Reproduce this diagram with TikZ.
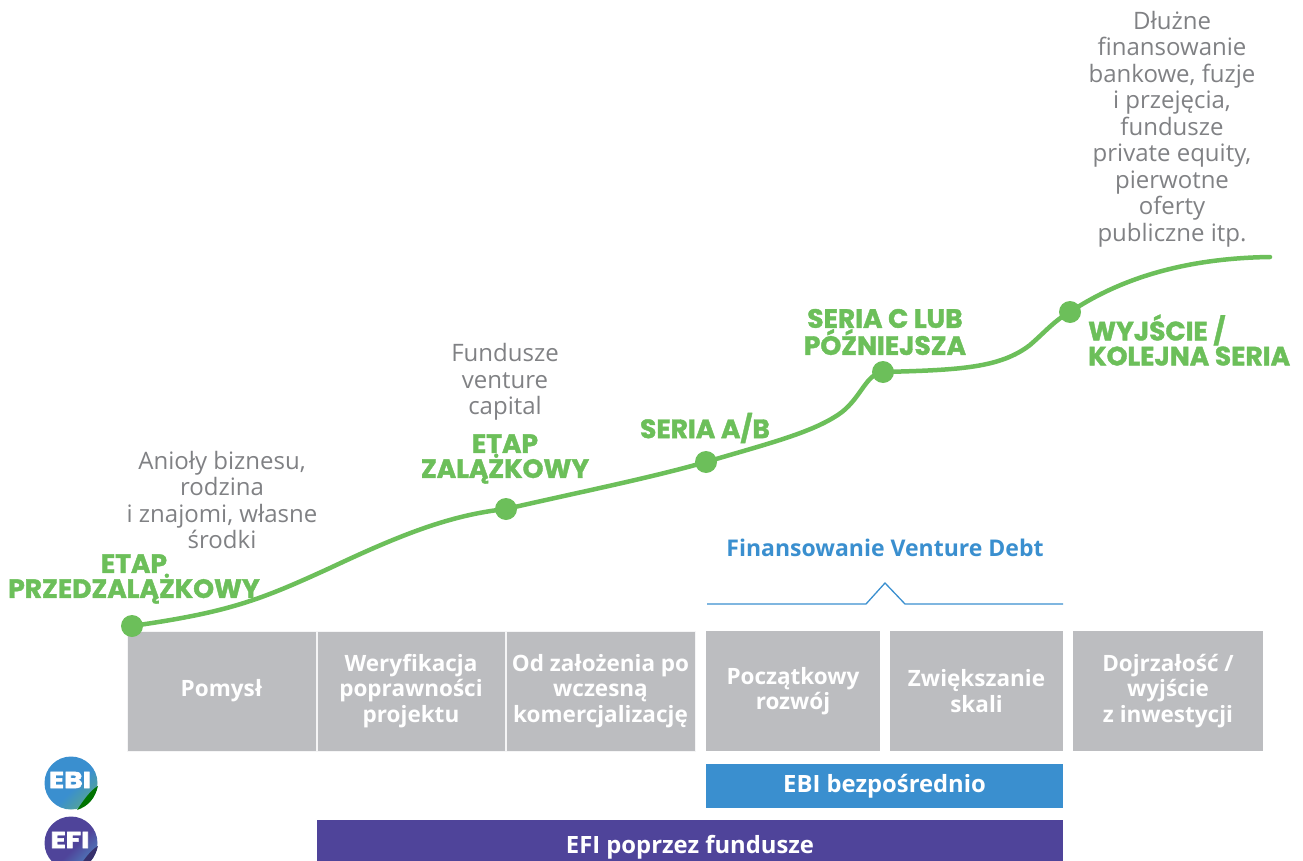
\documentclass[tikz,border=0pt]{standalone}
\usepackage{fontspec}
\setmainfont{Open Sans}
\newfontfamily\gfont{Poppins}[BoldFeatures={FakeBold=1.5}]
\newfontfamily\lfont{Poppins}[BoldFeatures={FakeBold=2.5}]
\usetikzlibrary{shapes.geometric}
\definecolor{gr}{HTML}{6CBF5A}
\definecolor{txtgray}{HTML}{808184}
\definecolor{boxgray}{HTML}{BCBDC0}
\definecolor{ebiblue}{HTML}{3A8FCF}
\definecolor{ebigreen}{HTML}{7CC04B}
\definecolor{efipurple}{HTML}{4F449A}
\definecolor{eficyan}{HTML}{4FC8E8}
\pgfdeclarehorizontalshading{ebish}{100bp}{color(0bp)=(ebiblue); color(55bp)=(ebiblue); color(100bp)=(ebigreen)}
\pgfdeclarehorizontalshading{efish}{100bp}{color(0bp)=(efipurple); color(55bp)=(efipurple); color(100bp)=(eficyan)}
\tikzset{
  greylbl/.style={text=txtgray, align=center, font=\fontsize{24}{26.5}\selectfont, inner sep=0},
  greenlbl/.style={text=gr, align=center, font=\gfont\bfseries\fontsize{26.5}{25}\selectfont, inner sep=0},
  stagebox/.style={fill=boxgray, draw=white!85!boxgray, line width=1pt, minimum height=120pt, text=white, align=center, font=\bfseries\fontsize{22.5}{25.5}\selectfont, inner sep=0},
  dotnode/.style={circle, fill=gr, minimum size=22pt, inner sep=0},
  barbox/.style={text=white, font=\bfseries\fontsize{23.8}{26}\selectfont, inner sep=0},
  logotxt/.style={font=\lfont\bfseries\fontsize{23}{23}\selectfont, text=white, inner sep=0, xscale=1.22, transform shape},
}
\begin{document}
\begin{tikzpicture}[x=1pt,y=-1pt]
\useasboundingbox (0,0) rectangle (1303,861);
\clip (0,0) rectangle (1303,861);
% stage boxes
\node[stagebox, minimum width=189pt] (b1) at (221.5,691) {Pomysł};
\node[stagebox, minimum width=188pt] (b2) at (411,691) {Weryfikacja\\poprawności\\projektu};
\node[stagebox, minimum width=189pt] (b3) at (600.5,691) {Od założenia po\\wczesną\\komercjalizację};
\node[stagebox, draw=none, minimum width=174pt] (b4) at (793,691) {Początkowy\\rozwój};
\node[stagebox, draw=none, minimum width=173pt] (b5) at (976.5,691) {Zwiększanie\\skali};
\node[stagebox, draw=none, minimum width=190pt] (b6) at (1168,691) {Dojrzałość /\\wyjście\\z inwestycji};
% bars
\node[barbox, fill=ebiblue, minimum width=357pt, minimum height=44pt] (ebi) at (884.5,786) {EBI bezpośrednio};
\node[barbox, fill=efipurple, minimum width=746pt, minimum height=50pt, anchor=north] (efi) at (690,820) {};
\node[barbox, anchor=base] (efit) at (690,853) {EFI poprzez fundusze};
% logos
\shade[shading=ebish, shading angle=-45] (71,783) circle (26.5);
\fill[white] (77,811) .. controls (89,806) and (96,798) .. (99,786) -- (104,812) -- cycle;
\fill[green!45!black] (77,810) .. controls (89,806) and (95,798) .. (98,786) .. controls (91,790) and (85,798) .. (77,810) -- cycle;
\node[logotxt] (ebilogo) at (70,780) {EBI};
\shade[shading=efish, shading angle=-45] (71,843) circle (26.5);
\fill[white] (77,871) .. controls (89,866) and (96,858) .. (99,846) -- (104,872) -- cycle;
\fill[efipurple!70!black] (77,870) .. controls (89,866) and (95,858) .. (98,846) .. controls (91,850) and (85,858) .. (77,870) -- cycle;
\node[logotxt] (efilogo) at (70,840) {EFI};
% venture debt
\node[text=ebiblue, font=\bfseries\fontsize{23}{26}\selectfont, inner sep=0] (vd) at (885,548) {Finansowanie Venture Debt};
\coordinate (bl) at (707,604);
\coordinate (br) at (1063,604);
\draw[ebiblue, line width=1.3pt] (bl) -- (866,604) -- (885,583) -- (905,604) -- (br);
% curve
\coordinate (p1) at (132,626);
\coordinate (p2) at (506,509);
\coordinate (p3) at (706,462);
\coordinate (p4) at (883,372);
\coordinate (p5) at (1070,312);
\coordinate (pe) at (1270,257);
\draw[gr, line width=4.5pt, line cap=round]
  (p1) .. controls (230,612) and (260,600) .. (330,568)
  .. controls (400,535) and (450,515) .. (p2)
  .. controls (580,492) and (650,478) .. (p3)
  .. controls (770,443) and (815,432) .. (842,412)
  .. controls (862,396) and (866,374) .. (p4)
  .. controls (960,370) and (1000,368) .. (1030,345)
  .. controls (1045,332) and (1055,320) .. (p5)
  .. controls (1130,272) and (1200,258) .. (pe);
\foreach \p in {p1,p2,p3,p4,p5} \node[dotnode] at (\p) {};
% green labels
\node[greenlbl] (l1) at (134,579) {ETAP\\PRZEDZALĄŻKOWY};
\node[greenlbl] (l2) at (505,459) {ETAP\\ZALĄŻKOWY};
\node[greenlbl] (l3) at (705,428) {SERIA A/B};
\node[greenlbl] (l4) at (885,332) {SERIA C LUB\\PÓŹNIEJSZA};
\node[greenlbl, align=left, anchor=west] (l5) at (1088,340) {WYJŚCIE /\\KOLEJNA SERIA};
% grey labels
\node[greylbl] (g1) at (222,500) {Anioły biznesu,\\rodzina\\i znajomi, własne\\środki};
\node[greylbl] (g2) at (505,382) {Fundusze\\venture\\capital};
\node[greylbl] (g3) at (1172,129) {Dłużne\\finansowanie\\bankowe, fuzje\\i przejęcia,\\fundusze\\private equity,\\pierwotne\\oferty\\publiczne itp.};
\end{tikzpicture}
\end{document}
